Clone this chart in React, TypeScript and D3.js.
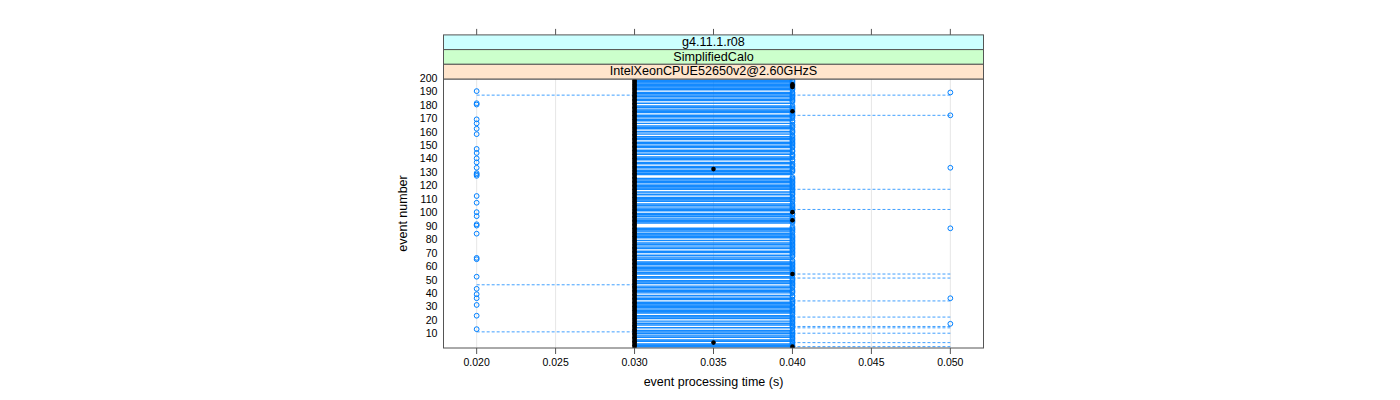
import React from "react";
import * as d3 from "d3";

// ---- data ----
const stripLabels = ["g4.11.1.r08", "SimplifiedCalo", "IntelXeonCPUE52650v2@2.60GHzS"];
const xTicks = [0.02, 0.025, 0.03, 0.035, 0.04, 0.045, 0.05];
const xTickLabels = ["0.020", "0.025", "0.030", "0.035", "0.040", "0.045", "0.050"];
const yTicks = [10, 20, 30, 40, 50, 60, 70, 80, 90, 100, 110, 120, 130, 140, 150, 160, 170, 180, 190, 200];

const eventCount = 199;
const medianTime = 0.03; // black dots (typical)
const modeTime = 0.04; // open circles (typical)

const medianOutlierEvents = [196, 195, 194, 176, 133, 101, 95, 55, 4, 1];
const medianOutlierTimes = [0.04, 0.04, 0.04, 0.04, 0.035, 0.04, 0.04, 0.04, 0.035, 0.04];

const fastEvents = [191, 182, 181, 170, 167, 163, 159, 148, 145, 141, 138, 134, 130, 129, 128, 113, 108, 101, 98, 92, 91, 85, 67, 66, 53, 44, 40, 37, 32, 24, 14]; // circles at 0.020
const fastTime = 0.02;
const slowEvents = [190, 173, 134, 89, 37, 18]; // circles at 0.050
const slowTime = 0.05;

const noRangeEvents = [191, 183, 181, 174, 168, 166, 162, 158, 154, 148, 143, 139, 136, 128, 127, 117, 113, 108, 101, 92, 91, 90, 81, 79, 73, 70, 65, 54, 51, 47, 40, 35, 25, 21, 16, 14, 7, 4];
// events whose range segment is drawn in a lighter tone
const lightRangeEvents = [186, 178, 171, 160, 151, 145, 133, 122, 115, 105, 97, 86, 76, 68, 61, 57, 44, 38, 29, 19, 10];

const leftDashEvents = [188, 47, 12]; // 0.020 -> 0.030
const rightDashEvents = [188, 173, 118, 103, 55, 52, 35, 23, 16, 15, 11, 4, 1]; // 0.040 -> 0.050

// ---- layout ----
const W = 1400, H = 400;
const pL = 443.5, pR = 983.5, pT = 79, pB = 348;
const stripH = 14.7;
const stripColors = ["#ccffff", "#ccffcc", "#ffe5cc"];
const FONT = "'Liberation Sans', Arial, Helvetica, sans-serif";
const BLUE = "#0080ff";

export default function App() {
  const x = d3.scaleLinear().domain([0.0179, 0.0521]).range([pL, pR]);
  const y = d3.scaleLinear().domain([0, 200]).range([pB, pT]);
  const events = d3.range(1, eventCount + 1);
  const gapSet = new Set(noRangeEvents);
  const lightSet = new Set(lightRangeEvents);
  const fastSet = new Set(fastEvents);

  const stripTop = pT - stripH * 3;

  return (
    <svg width={W} height={H} style={{ position: "absolute", left: 0, top: 0 }} fontFamily={FONT}>
      <defs>
        <clipPath id="panel">
          <rect x={pL} y={pT} width={pR - pL} height={pB - pT} />
        </clipPath>
      </defs>
      <rect x={0} y={0} width={W} height={H} fill="#fff" />
      {/* grid */}
      {xTicks.map((t) => (
        <line key={"g" + t} x1={x(t)} x2={x(t)} y1={pT} y2={pB} stroke="#e6e6e6" strokeWidth={1} />
      ))}
      <g clipPath="url(#panel)">
        {/* solid range segments */}
        {events.filter((e) => !gapSet.has(e)).map((e) => (
          <line key={"s" + e} x1={x(medianTime)} x2={x(modeTime)} y1={y(e)} y2={y(e)} stroke={BLUE}
            strokeOpacity={lightSet.has(e) ? 0.45 : 0.92} strokeWidth={1.45} />
        ))}
        {/* dashed segments */}
        {leftDashEvents.map((e) => (
          <line key={"ld" + e} x1={x(fastTime)} x2={x(medianTime)} y1={y(e)} y2={y(e)} stroke={BLUE} strokeOpacity={0.75} strokeWidth={1} strokeDasharray="3,2" />
        ))}
        {rightDashEvents.map((e) => (
          <line key={"rd" + e} x1={x(modeTime)} x2={x(slowTime)} y1={y(e)} y2={y(e)} stroke={BLUE} strokeOpacity={0.75} strokeWidth={1} strokeDasharray="3,2" />
        ))}
        {/* black median dots */}
        {events.map((e) => (
          <circle key={"b" + e} cx={x(medianTime)} cy={y(e)} r={2.3} fill="#000" />
        ))}
        {/* open circles at mode */}
        {events.filter((e) => !fastSet.has(e)).map((e) => (
          <circle key={"c" + e} cx={x(modeTime)} cy={y(e)} r={2.4} fill="none" stroke={BLUE} strokeWidth={1} />
        ))}
        {fastEvents.map((e, i) => (
          <circle key={"f" + i} cx={x(fastTime)} cy={y(e)} r={2.4} fill="none" stroke={BLUE} strokeWidth={1} />
        ))}
        {slowEvents.map((e, i) => (
          <circle key={"w" + i} cx={x(slowTime)} cy={y(e)} r={2.4} fill="none" stroke={BLUE} strokeWidth={1} />
        ))}
        {medianOutlierEvents.map((e, i) => (
          <circle key={"o" + i} cx={x(medianOutlierTimes[i])} cy={y(e)} r={2.3} fill="#000" />
        ))}
      </g>
      {/* panel border */}
      <rect x={pL} y={pT} width={pR - pL} height={pB - pT} fill="none" stroke="#555" strokeWidth={1} />
      {/* strips */}
      {stripLabels.map((s, i) => {
        const top = stripTop + i * stripH;
        return (
          <g key={s}>
            <rect x={pL} y={top} width={pR - pL} height={stripH} fill={stripColors[i]} stroke="#555" strokeWidth={1} />
            <text x={(pL + pR) / 2} y={top + stripH / 2 + 0.5} textAnchor="middle" dominantBaseline="middle" fontSize={12.6} fill="#000">
              {s}
            </text>
          </g>
        );
      })}
      {/* top ticks */}
      {xTicks.map((t) => (
        <line key={"tt" + t} x1={x(t)} x2={x(t)} y1={stripTop - 6} y2={stripTop} stroke="#555" strokeWidth={1} />
      ))}
      {/* bottom axis */}
      {xTicks.map((t, i) => (
        <g key={"bt" + t}>
          <line x1={x(t)} x2={x(t)} y1={pB} y2={pB + 6} stroke="#555" strokeWidth={1} />
          <text x={x(t)} y={pB + 15} textAnchor="middle" dominantBaseline="middle" fontSize={10.5}>
            {xTickLabels[i]}
          </text>
        </g>
      ))}
      {/* left axis labels */}
      {yTicks.map((t) => (
        <text key={"yl" + t} x={pL - 6} y={y(t)} textAnchor="end" dominantBaseline="middle" fontSize={10.6}>
          {t}
        </text>
      ))}
      <text x={(pL + pR) / 2} y={383} textAnchor="middle" dominantBaseline="middle" fontSize={12.5}>
        event processing time (s)
      </text>
      <text transform={`translate(404,${(pT + pB) / 2}) rotate(-90)`} textAnchor="middle" dominantBaseline="middle" fontSize={12.5}>
        event number
      </text>
    </svg>
  );
}
